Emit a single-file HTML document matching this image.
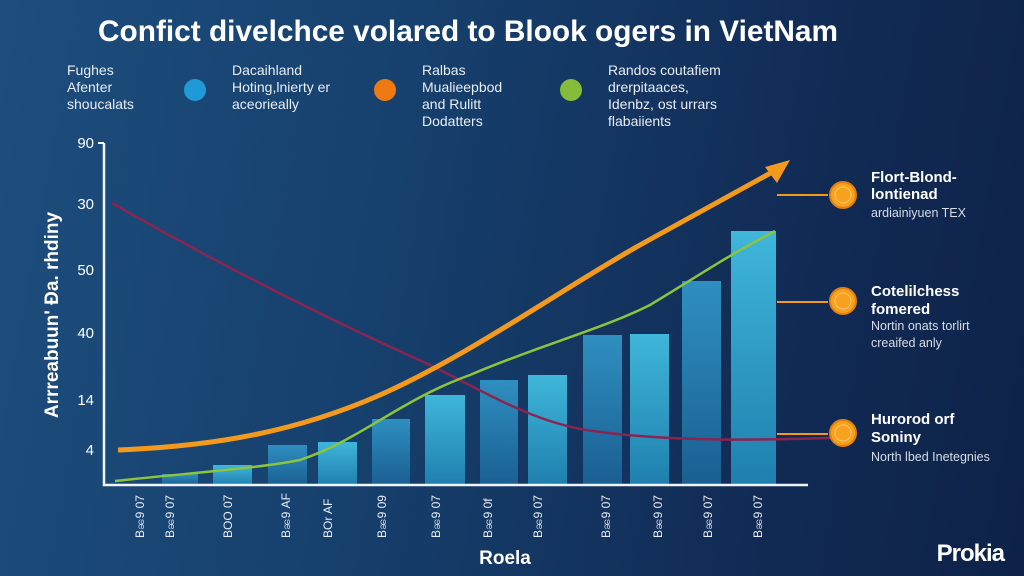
<!DOCTYPE html>
<html><head><meta charset="utf-8"><style>
body{margin:0;width:1024px;height:576px;overflow:hidden;background:linear-gradient(100deg,#1d4e7e 0%,#163f6c 40%,#112b55 75%,#0e2248 100%);font-family:"Liberation Sans",sans-serif;color:#fff}
svg{position:absolute;left:0;top:0}
</style></head><body>
<svg width="1024" height="576" viewBox="0 0 1024 576">
<defs>
<linearGradient id="b1" x1="0" y1="0" x2="0" y2="1"><stop offset="0" stop-color="#3fb6da"/><stop offset="1" stop-color="#1f7fae"/></linearGradient>
<linearGradient id="b2" x1="0" y1="0" x2="0" y2="1"><stop offset="0" stop-color="#2f8fc0"/><stop offset="1" stop-color="#1a5f92"/></linearGradient>
</defs>
<text x="98" y="41" font-size="30" font-weight="bold" fill="#fff" textLength="740" lengthAdjust="spacingAndGlyphs">Confict divelchce volared to Blook ogers in VietNam</text>
<g font-size="14" fill="#e8eef5">
<text x="67" y="75">Fughes</text><text x="67" y="92">Afenter</text><text x="67" y="109">shoucalats</text>
<text x="232" y="75">Dacaihland</text><text x="232" y="92">Hoting,lnierty er</text><text x="232" y="109">aceorieally</text>
<text x="422" y="75">Ralbas</text><text x="422" y="92">Mualieepbod</text><text x="422" y="109">and Rulitt</text><text x="422" y="126">Dodatters</text>
<text x="608" y="75">Randos coutafiem</text><text x="608" y="92">drerpitaaces,</text><text x="608" y="109">Idenbz, ost urrars</text><text x="608" y="126">flabaiients</text>
</g>
<circle cx="195" cy="90" r="11" fill="#1f9ad6"/>
<circle cx="385" cy="90" r="11" fill="#f07a12"/>
<circle cx="571" cy="90" r="11" fill="#85bd3a"/>
<g font-size="15" fill="#fff" text-anchor="end">
<text x="94" y="148">90</text><text x="94" y="209">30</text><text x="94" y="275">50</text><text x="94" y="338">40</text><text x="94" y="405">14</text><text x="94" y="455">4</text>
</g>
<text transform="translate(58,315) rotate(-90)" font-size="19" font-weight="bold" fill="#fff" text-anchor="middle">Arrreabuun' Ɖa. rhdiny</text>
<g>
<rect x="162" y="474" width="36" height="11" fill="url(#b2)"/>
<rect x="213" y="465" width="39" height="20" fill="url(#b1)"/>
<rect x="268" y="445" width="39" height="40" fill="url(#b2)"/>
<rect x="318" y="442" width="39" height="43" fill="url(#b1)"/>
<rect x="372" y="419" width="38" height="66" fill="url(#b2)"/>
<rect x="425" y="395" width="40" height="90" fill="url(#b1)"/>
<rect x="480" y="380" width="38" height="105" fill="url(#b2)"/>
<rect x="528" y="375" width="39" height="110" fill="url(#b1)"/>
<rect x="583" y="335" width="39" height="150" fill="url(#b2)"/>
<rect x="630" y="334" width="39" height="151" fill="url(#b1)"/>
<rect x="682" y="281" width="39" height="204" fill="url(#b2)"/>
<rect x="731" y="231" width="45" height="254" fill="url(#b1)"/>
</g>
<path d="M112,203 C220,265 330,320 430,365 C500,400 540,425 600,432 C680,442 760,440 830,438" fill="none" stroke="#8a2450" stroke-width="2.5"/>
<path d="M115,481 C200,472 260,468 300,460 C360,440 400,400 470,375 C540,345 600,330 650,305 C700,275 720,260 775,231" fill="none" stroke="#8cc43e" stroke-width="2.5"/>
<path d="M118,450 C220,446 300,430 380,395 C470,355 560,290 640,245 C700,212 740,190 776,170" fill="none" stroke="#f39a1e" stroke-width="5"/>
<polygon points="790,160 765,167 777,183" fill="#f39a1e"/>
<path d="M104,143 L104,485 L808,485" fill="none" stroke="#f0f4f8" stroke-width="2.5"/>
<line x1="98" y1="143" x2="104" y2="143" stroke="#fff" stroke-width="2"/>
<line x1="777" y1="195" x2="828" y2="195" stroke="#f39a1e" stroke-width="2"/>
<line x1="777" y1="302" x2="828" y2="302" stroke="#f39a1e" stroke-width="2"/>
<line x1="777" y1="434" x2="828" y2="434" stroke="#f39a1e" stroke-width="2"/>
<g fill="#f6a21f" stroke="#e07f10" stroke-width="2">
<circle cx="843" cy="195" r="13"/><circle cx="843" cy="301" r="13"/><circle cx="843" cy="433" r="13"/>
</g>
<g fill="none" stroke="#ffc76a" stroke-width="1"><circle cx="843" cy="195" r="8"/><circle cx="843" cy="301" r="8"/><circle cx="843" cy="433" r="8"/></g>
<g font-size="15" font-weight="bold" fill="#fff">
<text x="871" y="182">Flort-Blond-</text><text x="871" y="199">lontienad</text>
<text x="871" y="296">Cotelilchess</text><text x="871" y="314">fomered</text>
<text x="871" y="424">Hurorod orf</text><text x="871" y="442">Soniny</text>
</g>
<g font-size="12.5" fill="#d5dde8">
<text x="871" y="217">ardiainiyuen TEX</text>
<text x="871" y="330">Nortin onats torlirt</text><text x="871" y="347">creaifed anly</text>
<text x="871" y="461">North lbed Inetegnies</text>
</g>
<g font-size="12" fill="#e8eef5">
<text transform="translate(144,538) rotate(-90)">Bၼ9 07</text>
<text transform="translate(174,538) rotate(-90)">Bၼ9 07</text>
<text transform="translate(232,538) rotate(-90)">BOO 07</text>
<text transform="translate(290,538) rotate(-90)">Bၼ9 AF</text>
<text transform="translate(332,538) rotate(-90)">BOr AF</text>
<text transform="translate(386,538) rotate(-90)">Bၼ9 09</text>
<text transform="translate(440,538) rotate(-90)">Bၼ9 07</text>
<text transform="translate(492,538) rotate(-90)">Bၼ9 0f</text>
<text transform="translate(542,538) rotate(-90)">Bၼ9 07</text>
<text transform="translate(610,538) rotate(-90)">Bၼ9 07</text>
<text transform="translate(662,538) rotate(-90)">Bၼ9 07</text>
<text transform="translate(712,538) rotate(-90)">Bၼ9 07</text>
<text transform="translate(762,538) rotate(-90)">Bၼ9 07</text>
</g>
<text x="505" y="564" font-size="19" font-weight="bold" fill="#fff" text-anchor="middle">Roela</text>
<text x="1004" y="561" font-size="24" font-weight="bold" fill="#fff" text-anchor="end" letter-spacing="-1">Prokia</text>
</svg>
</body></html>
